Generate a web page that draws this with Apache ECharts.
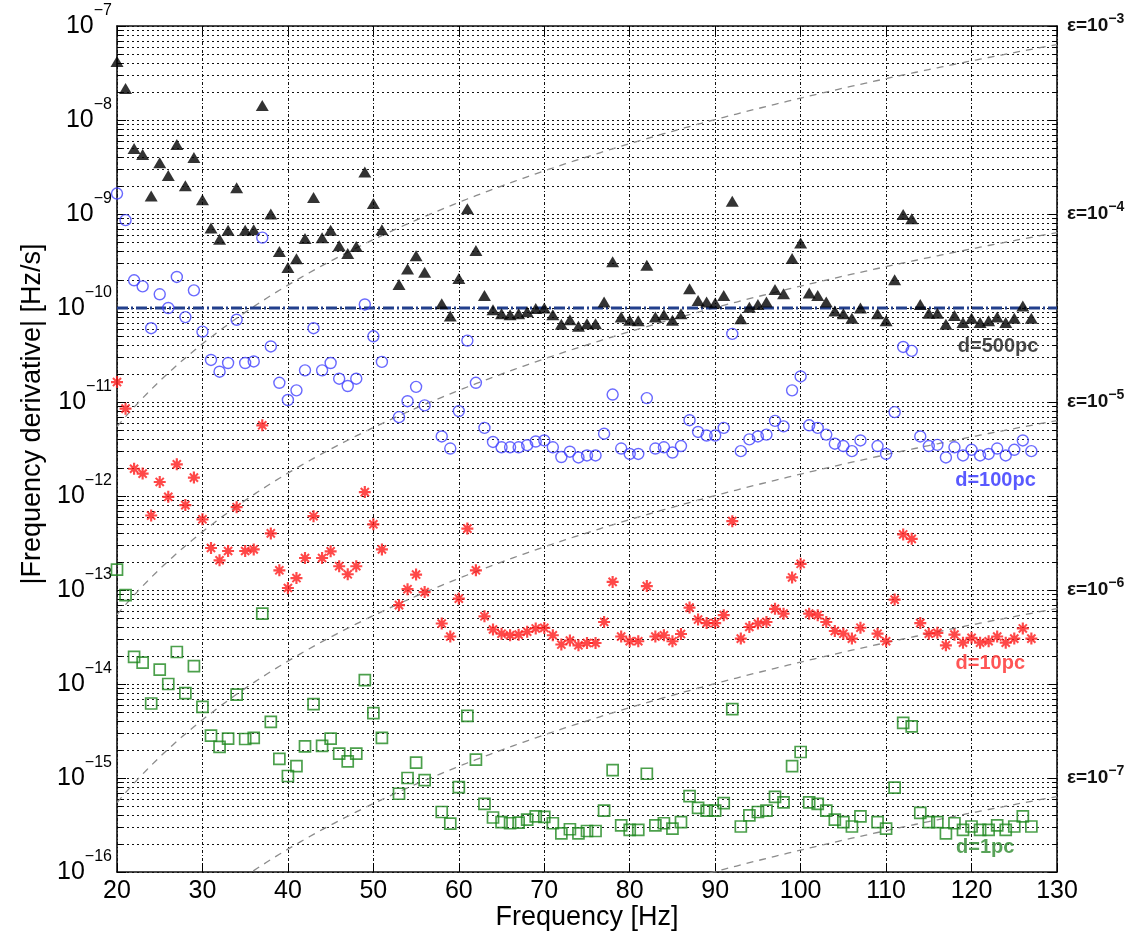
<!DOCTYPE html>
<html><head><meta charset="utf-8">
<script src="https://cdn.jsdelivr.net/npm/echarts@6/dist/echarts.min.js"></script>
<style>html,body{margin:0;padding:0;background:#fff}#c{width:1134px;height:938px}</style>
</head><body><div id="c"></div>
<script>
// ---- data ----
const freq = [20,21,22,23,24,25,26,27,28,29,30,31,32,33,34,35,36,37,38,39,40,41,42,43,44,45,46,47,48,49,50,51,
  53,54,55,56,
  58,59,60,61,62,63,64,65,66,67,68,69,70,71,72,73,74,75,76,77,78,79,80,81,82,83,84,85,86,87,88,89,90,91,92,93,94,95,96,97,98,99,100,101,102,103,104,105,106,107,
  109,110,111,112,113,114,115,116,117,118,119,120,121,122,123,124,125,126,127];

const d500pc = [4.2e-8,2.16e-8,4.97e-9,4.3e-9,1.55e-9,3.5e-9,2.57e-9,5.5e-9,2.0e-9,4.0e-9,1.42e-9,7.1e-10,5.4e-10,6.7e-10,1.9e-9,6.7e-10,6.8e-10,1.43e-8,1.0e-9,4.0e-10,2.7e-10,3.35e-10,5.5e-10,1.5e-9,5.6e-10,6.7e-10,4.6e-10,3.8e-10,4.5e-10,2.8e-9,1.29e-9,6.8e-10,
  1.78e-10,2.6e-10,3.6e-10,2.4e-10,
  1.11e-10,8.2e-11,2.06e-10,1.14e-9,4.1e-10,1.36e-10,9.6e-11,8.7e-11,8.5e-11,8.7e-11,9.1e-11,9.9e-11,1.0e-10,8.5e-11,6.7e-11,7.5e-11,6.4e-11,6.8e-11,6.8e-11,1.16e-10,3.1e-10,8.0e-11,7.4e-11,7.3e-11,2.85e-10,8.0e-11,8.5e-11,7.4e-11,8.7e-11,1.6e-10,1.2e-10,1.16e-10,1.13e-10,1.36e-10,1.37e-9,7.7e-11,1.02e-10,1.09e-10,1.16e-10,1.57e-10,1.42e-10,3.36e-10,4.9e-10,1.44e-10,1.36e-10,1.16e-10,9.3e-11,8.7e-11,7.8e-11,1.0e-10,
  8.7e-11,7.3e-11,2.0e-10,9.9e-10,8.9e-10,1.09e-10,8.8e-11,8.8e-11,6.7e-11,8.3e-11,7.0e-11,7.8e-11,7.0e-11,7.3e-11,8.0e-11,7.0e-11,7.8e-11,1.05e-10,7.8e-11];

const d100pc = [1.65e-9,8.6e-10,1.97e-10,1.7e-10,6.1e-11,1.4e-10,1.0e-10,2.14e-10,8.0e-11,1.54e-10,5.6e-11,2.8e-11,2.1e-11,2.6e-11,7.5e-11,2.6e-11,2.7e-11,5.6e-10,3.9e-11,1.6e-11,1.05e-11,1.33e-11,2.17e-11,6.1e-11,2.17e-11,2.6e-11,1.77e-11,1.48e-11,1.77e-11,1.09e-10,5.0e-11,2.67e-11,
  6.9e-12,1.02e-11,1.45e-11,9.2e-12,
  4.3e-12,3.2e-12,8.0e-12,4.5e-11,1.6e-11,5.3e-12,3.76e-12,3.3e-12,3.3e-12,3.3e-12,3.47e-12,3.8e-12,3.9e-12,3.3e-12,2.6e-12,2.96e-12,2.57e-12,2.7e-12,2.7e-12,4.6e-12,1.2e-11,3.2e-12,2.8e-12,2.8e-12,1.1e-11,3.2e-12,3.3e-12,2.9e-12,3.4e-12,6.4e-12,4.8e-12,4.4e-12,4.4e-12,5.3e-12,5.3e-11,3.0e-12,4.0e-12,4.3e-12,4.5e-12,6.3e-12,5.5e-12,1.33e-11,1.87e-11,5.65e-12,5.3e-12,4.5e-12,3.6e-12,3.4e-12,3.0e-12,3.9e-12,
  3.4e-12,2.8e-12,7.8e-12,3.85e-11,3.5e-11,4.3e-12,3.4e-12,3.5e-12,2.57e-12,3.3e-12,2.7e-12,3.1e-12,2.7e-12,2.8e-12,3.2e-12,2.7e-12,3.1e-12,3.9e-12,3.0e-12];

const d10pc = [1.63e-11,8.5e-12,1.95e-12,1.73e-12,6.2e-13,1.41e-12,9.8e-13,2.17e-12,8.0e-13,1.57e-12,5.65e-13,2.8e-13,2.07e-13,2.6e-13,7.6e-13,2.6e-13,2.7e-13,5.65e-12,4.0e-13,1.62e-13,1.05e-13,1.34e-13,2.19e-13,6.1e-13,2.19e-13,2.58e-13,1.79e-13,1.47e-13,1.79e-13,1.1e-12,5.0e-13,2.7e-13,
  6.9e-14,1.02e-13,1.46e-13,9.5e-14,
  4.4e-14,3.2e-14,8.1e-14,4.5e-13,1.62e-13,5.25e-14,3.8e-14,3.43e-14,3.3e-14,3.35e-14,3.6e-14,3.9e-14,3.95e-14,3.3e-14,2.63e-14,2.9e-14,2.58e-14,2.73e-14,2.73e-14,4.57e-14,1.22e-13,3.2e-14,2.85e-14,2.85e-14,1.1e-13,3.2e-14,3.3e-14,2.85e-14,3.4e-14,6.5e-14,4.85e-14,4.45e-14,4.45e-14,5.4e-14,5.4e-13,3.04e-14,4.04e-14,4.4e-14,4.57e-14,6.3e-14,5.6e-14,1.36e-13,1.9e-13,5.6e-14,5.4e-14,4.57e-14,3.66e-14,3.43e-14,3.04e-14,3.97e-14,
  3.43e-14,2.85e-14,7.9e-14,3.9e-13,3.5e-13,4.45e-14,3.43e-14,3.5e-14,2.58e-14,3.35e-14,2.75e-14,3.1e-14,2.75e-14,2.85e-14,3.2e-14,2.75e-14,3.04e-14,3.9e-14,3.04e-14];

const d1pc = [1.65e-13,8.8e-14,1.94e-14,1.69e-14,6.2e-15,1.42e-14,1.0e-14,2.19e-14,8.0e-15,1.55e-14,5.7e-15,2.83e-15,2.14e-15,2.62e-15,7.7e-15,2.6e-15,2.67e-15,5.6e-14,3.95e-15,1.6e-15,1.05e-15,1.34e-15,2.17e-15,6.1e-15,2.2e-15,2.62e-15,1.82e-15,1.5e-15,1.82e-15,1.1e-14,4.9e-15,2.67e-15,
  6.8e-16,1.0e-15,1.46e-15,9.5e-16,
  4.35e-16,3.27e-16,8.0e-16,4.57e-15,1.57e-15,5.3e-16,3.8e-16,3.4e-16,3.3e-16,3.35e-16,3.6e-16,3.9e-16,3.85e-16,3.3e-16,2.57e-16,2.85e-16,2.57e-16,2.73e-16,2.73e-16,4.5e-16,1.21e-15,3.14e-16,2.8e-16,2.8e-16,1.11e-15,3.14e-16,3.3e-16,2.9e-16,3.4e-16,6.4e-16,4.8e-16,4.5e-16,4.5e-16,5.4e-16,5.4e-15,3.05e-16,4.0e-16,4.35e-16,4.5e-16,6.3e-16,5.5e-16,1.34e-15,1.89e-15,5.5e-16,5.3e-16,4.5e-16,3.6e-16,3.4e-16,3.05e-16,3.9e-16,
  3.4e-16,2.9e-16,7.9e-16,3.85e-15,3.55e-15,4.25e-16,3.4e-16,3.4e-16,2.57e-16,3.3e-16,2.8e-16,3.05e-16,2.8e-16,2.8e-16,3.14e-16,2.8e-16,3.05e-16,3.9e-16,3.05e-16];

const xTicks = [20,30,40,50,60,70,80,90,100,110,120,130];
const yDecadeExps = [-16,-15,-14,-13,-12,-11,-10,-9,-8,-7];
const minorMultipliers = [2,3,4,5,6,7,8,9];
// right-hand epsilon labels: fdot decade exponent -> epsilon exponent
const epsLabelDecades = [-7,-9,-11,-13,-15];
const epsLabelExps = [-3,-4,-5,-6,-7];
// spin-down reference curves: fdot = K * eps^2 * f^5
const epsCurves = [1e-3,1e-4,1e-5,1e-6,1e-7];
const spinK = 1.71e-12;
const thresholdValue = 1e-10;
const distLabels = [
  {text:'d=500pc', x:123.1, y:3.85e-11, color:'#1a1a1a'},
  {text:'d=100pc', x:122.8, y:1.45e-12, color:'#2f2fff'},
  {text:'d=10pc',  x:122.2, y:1.66e-14, color:'#ff2a2a'},
  {text:'d=1pc',   x:121.6, y:1.83e-16, color:'#2e8b2e'}
];

// ---- build ----
const FONT = '"Liberation Sans", Arial, Helvetica, sans-serif';
const xMin = xTicks[0], xMax = xTicks[xTicks.length-1];
const yMin = Math.pow(10, yDecadeExps[0]), yMax = Math.pow(10, yDecadeExps[yDecadeExps.length-1]);
const minorVals = [];
yDecadeExps.slice(0,-1).forEach(e => minorMultipliers.forEach(k => minorVals.push(k*Math.pow(10,e))));
const curveF = [];
for (let f = xMin; f <= xMax + 1e-9; f += 0.5) curveF.push(f);
const sup = n => String(n).replace('-', '\u2212');
const pair = arr => freq.map((f,i) => [f, arr[i]]);
const starPath = 'path://M0 41H100V59H0Z M41 0H59V100H41Z M10 22L22 10L90 78L78 90Z M78 10L90 22L22 90L10 78Z';

const series = [];
series.push({
  type:'custom', silent:true, z:1, clip:false,
  data: minorVals.map(v => [xMin, v]),
  renderItem(params, api){
    const v = api.value(1);
    const p1 = api.coord([xMin, v]), p2 = api.coord([xMax, v]);
    const y = Math.round(p1[1]) + 0.5;
    return {type:'group', children:[
      {type:'line', shape:{x1:p1[0], y1:y, x2:p2[0], y2:y}, style:{stroke:'#111', lineWidth:1, lineDash:[2,3]}},
      {type:'line', shape:{x1:p1[0], y1:y, x2:p1[0]+5, y2:y}, style:{stroke:'#000', lineWidth:1}},
      {type:'line', shape:{x1:p2[0]-5, y1:y, x2:p2[0], y2:y}, style:{stroke:'#000', lineWidth:1}}
    ]};
  }
});
epsCurves.forEach(eps => series.push({
  type:'line', silent:true, z:2, symbol:'none', clip:true,
  data: curveF.map(f => [f, spinK*eps*eps*Math.pow(f,5)]),
  lineStyle:{color:'#8c8c8c', width:1.3, type:[7,6]}
}));
series.push({
  type:'line', silent:true, z:2, symbol:'none',
  data:[[xMin, thresholdValue],[xMax, thresholdValue]],
  lineStyle:{color:'#223f8c', width:2.8, type:[11,3,2,3]}
});
series.push({type:'scatter', z:4, data:pair(d500pc), symbol:'triangle', symbolSize:[13,11],
  itemStyle:{color:'#000'}});
series.push({type:'scatter', z:4, data:pair(d100pc), symbol:'circle', symbolSize:11,
  itemStyle:{color:'rgba(0,0,0,0)', borderColor:'#4444ff', borderWidth:1.4}});
series.push({type:'scatter', z:4, data:pair(d10pc), symbol:starPath, symbolSize:12,
  itemStyle:{color:'#ff1a1a'}});
series.push({type:'scatter', z:4, data:pair(d1pc), symbol:'rect', symbolSize:11,
  itemStyle:{color:'rgba(0,0,0,0)', borderColor:'#1f881f', borderWidth:1.7}});
distLabels.forEach(d => series.push({
  type:'scatter', z:5, silent:true, symbolSize:1, itemStyle:{color:'rgba(0,0,0,0)'},
  data:[[d.x, d.y]],
  label:{show:true, position:'inside', formatter:d.text, color:d.color, fontFamily:FONT, fontSize:20, fontWeight:'bold'}
}));

const axisLineStyle = {color:'#111', width:1.6};
const option = {
  animation:false,
  backgroundColor:'#fff',
  grid:{left:117, top:26, right:77, bottom:66, outerBoundsMode:'none', containLabel:false},
  xAxis:[{
    type:'value', min:xMin, max:xMax, interval:10, position:'bottom',
    axisLine:{show:true, onZero:false, lineStyle:axisLineStyle},
    axisTick:{show:true, inside:true, length:9, lineStyle:{color:'#000'}},
    axisLabel:{color:'#000', fontFamily:FONT, fontSize:25, margin:7},
    splitLine:{show:true, lineStyle:{color:'#111', width:1, type:[3,2,1,2]}}
  },{
    type:'value', min:xMin, max:xMax, interval:10, position:'top',
    axisLine:{show:true, onZero:false, lineStyle:axisLineStyle},
    axisTick:{show:true, inside:true, length:9, lineStyle:{color:'#000'}},
    axisLabel:{show:false}, splitLine:{show:false}
  }],
  yAxis:[{
    type:'log', logBase:10, min:yMin, max:yMax, splitNumber:9, position:'left',
    axisLine:{show:true, onZero:false, lineStyle:axisLineStyle},
    axisTick:{show:true, inside:true, length:9, lineStyle:{color:'#000'}},
    axisLabel:{margin:5, formatter:v => '{b|10}{s|' + sup(Math.round(Math.log10(v))) + '}',
      rich:{b:{fontFamily:FONT, fontSize:25, color:'#000', lineHeight:46},
            s:{fontFamily:FONT, fontSize:16, color:'#000', lineHeight:16, verticalAlign:'top'}}},
    splitLine:{show:true, lineStyle:{color:'#111', width:1, type:[2,3]}}
  },{
    type:'log', logBase:10, min:yMin, max:yMax, splitNumber:9, position:'right',
    axisLine:{show:true, onZero:false, lineStyle:axisLineStyle},
    axisTick:{show:true, inside:true, length:9, lineStyle:{color:'#000'}},
    axisLabel:{margin:10, formatter:v => {
        const i = epsLabelDecades.indexOf(Math.round(Math.log10(v)));
        return i < 0 ? '' : '{e|\u03b5=10}{s|' + sup(epsLabelExps[i]) + '}';
      },
      rich:{e:{fontFamily:FONT, fontSize:19, fontWeight:'bold', color:'#111', lineHeight:28},
            s:{fontFamily:FONT, fontSize:14, fontWeight:'bold', color:'#111', lineHeight:14, verticalAlign:'top'}}},
    splitLine:{show:false}
  }],
  graphic:[
    {type:'text', x:587, y:918, style:{text:'Frequency [Hz]', fontFamily:FONT, fontSize:27, fill:'#000', align:'center', verticalAlign:'middle'}},
    {type:'text', x:33, y:414, rotation:Math.PI/2, style:{text:'|Frequency derivative| [Hz/s]', fontFamily:FONT, fontSize:27, fill:'#000', align:'center', verticalAlign:'middle'}}
  ],
  series: series
};
const chart = echarts.init(document.getElementById('c'), null, {renderer:'canvas'});
chart.setOption(option);
</script></body></html>
